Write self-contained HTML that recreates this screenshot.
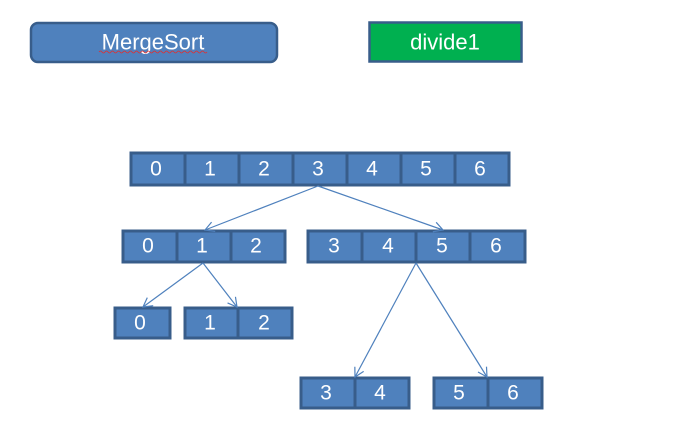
<!DOCTYPE html>
<html><head><meta charset="utf-8"><style>
html,body{margin:0;padding:0;background:#fff;width:676px;height:435px;overflow:hidden}
svg{display:block}
text{font-family:"Liberation Sans",sans-serif;fill:#fff;text-anchor:middle;dominant-baseline:central}
.c{fill:#4f81bd;stroke:#385d8a;stroke-width:3}
.l{stroke:#4f81bd;stroke-width:1.2;fill:none}
</style></head><body>
<svg width="676" height="435" viewBox="0 0 676 435">
<defs><marker id="a" markerWidth="12" markerHeight="12" refX="10" refY="6" orient="auto" markerUnits="userSpaceOnUse"><path d="M1,1 L10,6 L1,11" stroke="#4f81bd" stroke-width="1.2" fill="none"/></marker></defs>
<rect x="31" y="23" width="246" height="39" rx="7" fill="#4f81bd" stroke="#385d8a" stroke-width="2.5"/>
<text x="153" y="42" font-size="22">MergeSort</text>
<path d="M99 52 q1.5 -2 3 0 t3 0 t3 0 t3 0 t3 0 t3 0 t3 0 t3 0 t3 0 t3 0 t3 0 t3 0 t3 0 t3 0 t3 0 t3 0 t3 0 t3 0 t3 0 t3 0 t3 0 t3 0 t3 0 t3 0 t3 0 t3 0 t3 0 t3 0 t3 0 t3 0 t3 0 t3 0 t3 0 t3 0 t3 0 t3 0" stroke="#e03030" stroke-width="0.8" fill="none"/>
<rect x="369.5" y="22.5" width="152" height="39" fill="#00b050" stroke="#385d8a" stroke-width="2.5"/>
<text x="445" y="42" font-size="22">divide1</text>

<g font-size="21">
<rect class="c" x="131" y="153" width="54" height="32"/><text x="156" y="169">0</text>
<rect class="c" x="185" y="153" width="54" height="32"/><text x="210" y="169">1</text>
<rect class="c" x="239" y="153" width="54" height="32"/><text x="264" y="169">2</text>
<rect class="c" x="293" y="153" width="54" height="32"/><text x="318" y="169">3</text>
<rect class="c" x="347" y="153" width="54" height="32"/><text x="372" y="169">4</text>
<rect class="c" x="401" y="153" width="54" height="32"/><text x="426" y="169">5</text>
<rect class="c" x="455" y="153" width="54" height="32"/><text x="480" y="169">6</text>
<rect class="c" x="123" y="231" width="54" height="31"/><text x="148" y="246">0</text>
<rect class="c" x="177" y="231" width="54" height="31"/><text x="202" y="246">1</text>
<rect class="c" x="231" y="231" width="54" height="31"/><text x="256" y="246">2</text>
<rect class="c" x="308" y="231" width="54" height="31"/><text x="334" y="246">3</text>
<rect class="c" x="362" y="231" width="54" height="31"/><text x="388" y="246">4</text>
<rect class="c" x="416" y="231" width="54" height="31"/><text x="442" y="246">5</text>
<rect class="c" x="470" y="231" width="55" height="31"/><text x="496" y="246">6</text>
<rect class="c" x="115" y="308" width="55" height="30"/><text x="140" y="323">0</text>
<rect class="c" x="185" y="308" width="53" height="30"/><text x="210" y="323">1</text>
<rect class="c" x="238" y="308" width="54" height="30"/><text x="264" y="323">2</text>
<rect class="c" x="301" y="378" width="54" height="30"/><text x="326" y="393">3</text>
<rect class="c" x="355" y="378" width="54" height="30"/><text x="380" y="393">4</text>
<rect class="c" x="434" y="378" width="54" height="30"/><text x="459" y="393">5</text>
<rect class="c" x="488" y="378" width="54" height="30"/><text x="513" y="393">6</text>
</g>
<line class="l" x1="318" y1="186" x2="205" y2="230" marker-end="url(#a)"/>
<line class="l" x1="318" y1="186" x2="443" y2="230" marker-end="url(#a)"/>
<line class="l" x1="203" y1="263" x2="143" y2="307" marker-end="url(#a)"/>
<line class="l" x1="203" y1="263" x2="237" y2="307" marker-end="url(#a)"/>
<line class="l" x1="416" y1="263" x2="355" y2="377" marker-end="url(#a)"/>
<line class="l" x1="416" y1="263" x2="487" y2="377" marker-end="url(#a)"/>
</svg>
</body></html>
